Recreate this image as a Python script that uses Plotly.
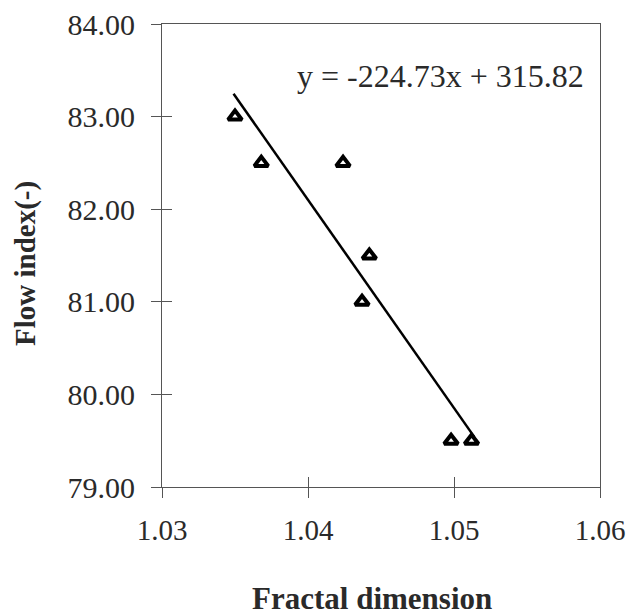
import plotly.graph_objects as go

# Data
fractal_dim = [1.0350, 1.0368, 1.0424, 1.0437, 1.0442, 1.0498, 1.0512]
flow_index = [83.0, 82.5, 82.5, 81.0, 81.5, 79.5, 79.5]
slope = -224.73
intercept = 315.82
fit_x = [1.0349, 1.0514]
fit_y = [slope * v + intercept for v in fit_x]
x_ticks = [1.03, 1.04, 1.05, 1.06]
y_ticks = [79, 80, 81, 82, 83, 84]

FONT = "Liberation Serif"
AX = "#555555"
TXT = "#2a2a2a"

fig = go.Figure()
fig.add_trace(go.Scatter(x=fit_x, y=fit_y, mode="lines",
                         line=dict(color="black", width=2.5), showlegend=False))
fig.add_trace(go.Scatter(x=fractal_dim, y=flow_index, mode="markers",
                         marker=dict(symbol="triangle-up-open", size=12, color="black",
                                     line=dict(color="black", width=4)),
                         showlegend=False))

common_x = dict(range=[1.03, 1.06], tickvals=x_ticks, showgrid=False, zeroline=False,
                automargin=False)
common_y = dict(range=[79, 84], tickvals=y_ticks, showgrid=False, zeroline=False,
                automargin=False)

fig.update_layout(
    width=633, height=615,
    margin=dict(l=162, r=33, t=24, b=128, autoexpand=False),
    plot_bgcolor="white", paper_bgcolor="white",
    font=dict(family=FONT, size=29, color=TXT),
    xaxis=dict(**common_x, ticktext=["1.03", "1.04", "1.05", "1.06"],
               ticks="outside", ticklen=10, tickwidth=1, tickcolor=AX,
               showline=True, linecolor=AX, linewidth=1, mirror=True,
               ticklabelstandoff=7, tickfont=dict(size=29, color=TXT)),
    yaxis=dict(**common_y, ticktext=["79.00", "80.00", "81.00", "82.00", "83.00", "84.00"],
               ticks="outside", ticklen=10, tickwidth=1, tickcolor=AX,
               showline=True, linecolor=AX, linewidth=1, mirror=True,
               ticklabelstandoff=10, tickfont=dict(size=30, color=TXT)),
    xaxis2=dict(**common_x, overlaying="x", ticks="inside", ticklen=10, tickwidth=1,
                tickcolor=AX, showticklabels=False, side="bottom", anchor="y"),
    yaxis2=dict(**common_y, overlaying="y", ticks="inside", ticklen=10, tickwidth=1,
                tickcolor=AX, showticklabels=False, side="left", anchor="x"),
)
# invisible trace to activate the overlay axes
fig.add_trace(go.Scatter(x=[1.03], y=[79], xaxis="x2", yaxis="y2", mode="markers",
                         marker=dict(opacity=0), showlegend=False, hoverinfo="skip"))

fig.add_annotation(text="y = -224.73x + 315.82", xref="paper", yref="paper",
                   x=(440 - 162) / 438, y=(487 - 76) / 463, showarrow=False,
                   font=dict(family=FONT, size=32, color=TXT),
                   xanchor="center", yanchor="middle")
fig.add_annotation(text="<b>Fractal dimension</b>", xref="paper", yref="paper",
                   x=(372 - 162) / 438, y=(487 - 598) / 463, showarrow=False,
                   font=dict(family=FONT, size=31, color=TXT),
                   xanchor="center", yanchor="middle")
fig.add_annotation(text="<b>Flow index(-)</b>", xref="paper", yref="paper",
                   x=(25 - 162) / 438, y=(487 - 264) / 463, showarrow=False, textangle=-90,
                   font=dict(family=FONT, size=29, color=TXT),
                   xanchor="center", yanchor="middle")

fig.write_html("out.html", config={"displayModeBar": False},
               post_script="document.body.style.margin='0';document.body.style.padding='0';")
